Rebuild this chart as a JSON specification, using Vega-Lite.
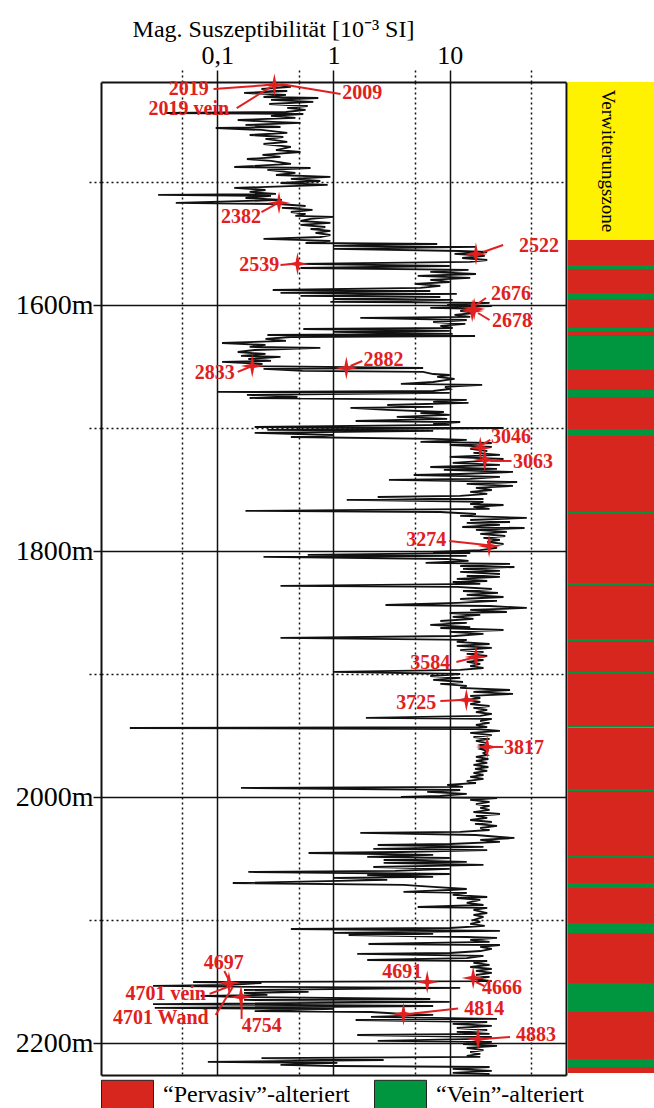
{
"$schema":"https://vega.github.io/schema/vega-lite/v6.json",
"width":553,"height":993,
"autosize":{"type":"none"},
"padding":{"left":101,"top":82,"right":0,"bottom":33},
"background":"white",
"config":{"view":{"stroke":null}},
"datasets":{
"curve":[
{"d":1421.1,"v":0.30},{"d":1422.7,"v":0.43},{"d":1424.4,"v":0.24},{"d":1426.0,"v":0.40},{"d":1427.6,"v":0.17},{"d":1429.2,"v":0.39},{"d":1430.9,"v":0.25},{"d":1431.7,"v":0.74},{"d":1433.3,"v":0.29},{"d":1434.9,"v":0.67},{"d":1436.6,"v":0.28},{"d":1438.2,"v":0.60},{"d":1439.8,"v":0.40},{"d":1441.4,"v":0.575},{"d":1443.1,"v":0.39},{"d":1443.9,"v":0.036},{"d":1444.7,"v":0.55},{"d":1446.3,"v":0.29},{"d":1447.9,"v":0.47},{"d":1449.6,"v":0.15},{"d":1451.2,"v":0.30},{"d":1452.0,"v":0.52},{"d":1453.6,"v":0.175},{"d":1455.3,"v":0.35},{"d":1456.1,"v":0.097},{"d":1457.7,"v":0.24},{"d":1460.1,"v":0.40},{"d":1461.8,"v":0.19},{"d":1463.4,"v":0.37},{"d":1465.0,"v":0.26},{"d":1467.4,"v":0.40},{"d":1469.1,"v":0.25},{"d":1471.5,"v":0.43},{"d":1474.0,"v":0.32},{"d":1475.6,"v":0.52},{"d":1478.0,"v":0.245},{"d":1479.6,"v":0.35},{"d":1481.3,"v":0.18},{"d":1482.9,"v":0.29},{"d":1485.3,"v":0.43},{"d":1487.8,"v":0.14},{"d":1488.6,"v":0.635},{"d":1490.2,"v":0.27},{"d":1492.6,"v":0.47},{"d":1494.3,"v":0.32},{"d":1495.9,"v":0.94},{"d":1497.5,"v":0.43},{"d":1499.2,"v":0.77},{"d":1500.8,"v":0.35},{"d":1502.4,"v":0.89},{"d":1504.0,"v":0.27},{"d":1504.8,"v":0.14},{"d":1506.5,"v":0.26},{"d":1508.1,"v":0.19},{"d":1509.7,"v":0.32},{"d":1510.5,"v":0.031},{"d":1511.3,"v":0.29},{"d":1513.0,"v":0.175},{"d":1514.6,"v":0.36},{"d":1517.0,"v":0.044},{"d":1517.9,"v":0.34},{"d":1519.5,"v":0.575},{"d":1521.1,"v":0.36},{"d":1522.7,"v":0.66},{"d":1524.4,"v":0.43},{"d":1526.0,"v":0.575},{"d":1527.6,"v":0.47},{"d":1528.4,"v":1.0},{"d":1530.0,"v":0.635},{"d":1531.7,"v":0.52},{"d":1533.3,"v":0.94},{"d":1534.9,"v":0.52},{"d":1536.6,"v":0.85},{"d":1538.2,"v":0.635},{"d":1539.8,"v":0.94},{"d":1541.4,"v":0.70},{"d":1543.1,"v":0.94},{"d":1544.7,"v":0.77},{"d":1546.3,"v":0.25},{"d":1547.9,"v":0.94},{"d":1549.6,"v":0.575},{"d":1550.4,"v":7.8},{"d":1552.0,"v":1.0},{"d":1552.8,"v":16.8},{"d":1554.4,"v":1.0},{"d":1556.1,"v":12.3},{"d":1556.9,"v":21},{"d":1558.5,"v":11},{"d":1560.1,"v":20},{"d":1561.8,"v":12.8},{"d":1563.4,"v":21},{"d":1565.0,"v":15},{"d":1566.6,"v":0.49},{"d":1568.3,"v":10},{"d":1569.9,"v":0.52},{"d":1571.5,"v":14.5},{"d":1573.1,"v":6.8},{"d":1574.8,"v":16.8},{"d":1576.4,"v":5.3},{"d":1578.0,"v":15},{"d":1579.6,"v":6.8},{"d":1581.3,"v":10},{"d":1582.9,"v":5.0},{"d":1584.5,"v":8.3},{"d":1586.1,"v":5.6},{"d":1587.8,"v":0.30},{"d":1588.6,"v":6.8},{"d":1590.2,"v":0.35},{"d":1591.0,"v":11.5},{"d":1592.6,"v":0.52},{"d":1593.5,"v":8.3},{"d":1595.1,"v":1.0},{"d":1595.9,"v":10.6},{"d":1597.5,"v":0.94},{"d":1598.3,"v":22},{"d":1600.0,"v":9.5},{"d":1600.8,"v":23},{"d":1602.4,"v":6.8},{"d":1603.2,"v":16.8},{"d":1604.8,"v":12.3},{"d":1606.5,"v":16.5},{"d":1608.1,"v":11},{"d":1609.7,"v":15},{"d":1610.5,"v":1.7},{"d":1612.2,"v":14},{"d":1613.8,"v":7.2},{"d":1615.4,"v":13.6},{"d":1617.0,"v":8.3},{"d":1618.7,"v":10.6},{"d":1619.5,"v":0.55},{"d":1621.1,"v":10},{"d":1621.9,"v":1.0},{"d":1623.5,"v":10.6},{"d":1624.4,"v":0.27},{"d":1625.2,"v":16.5},{"d":1626.0,"v":0.43},{"d":1627.6,"v":0.26},{"d":1629.2,"v":0.39},{"d":1630.9,"v":0.11},{"d":1632.5,"v":0.26},{"d":1634.1,"v":0.19},{"d":1634.9,"v":0.77},{"d":1636.6,"v":0.21},{"d":1638.2,"v":0.15},{"d":1639.8,"v":0.26},{"d":1641.4,"v":0.16},{"d":1642.2,"v":0.35},{"d":1643.9,"v":0.185},{"d":1645.5,"v":0.29},{"d":1646.3,"v":0.11},{"d":1647.9,"v":0.245},{"d":1649.6,"v":0.20},{"d":1651.2,"v":5.9},{"d":1652.0,"v":0.25},{"d":1653.6,"v":0.54},{"d":1654.4,"v":5.9},{"d":1656.1,"v":7.2},{"d":1656.9,"v":10},{"d":1658.5,"v":7.8},{"d":1660.1,"v":11},{"d":1660.9,"v":9.5},{"d":1662.6,"v":7.2},{"d":1664.2,"v":3.8},{"d":1665.0,"v":19},{"d":1666.6,"v":9.1},{"d":1668.3,"v":10},{"d":1669.9,"v":7.2},{"d":1670.7,"v":0.10},{"d":1671.5,"v":10},{"d":1673.1,"v":0.18},{"d":1674.8,"v":0.49},{"d":1675.6,"v":0.19},{"d":1677.2,"v":14},{"d":1678.8,"v":7.2},{"d":1679.6,"v":14.5},{"d":1681.3,"v":2.9},{"d":1682.9,"v":7.2},{"d":1683.7,"v":1.4},{"d":1685.3,"v":2.9},{"d":1687.0,"v":8.9},{"d":1687.8,"v":5.6},{"d":1689.4,"v":10},{"d":1691.0,"v":3.5},{"d":1692.6,"v":9.5},{"d":1694.3,"v":1.55},{"d":1695.1,"v":12.3},{"d":1696.7,"v":7.2},{"d":1697.5,"v":10},{"d":1699.2,"v":0.21},{"d":1700.0,"v":29},{"d":1701.6,"v":0.27},{"d":1702.4,"v":7.2},{"d":1704.0,"v":0.21},{"d":1705.7,"v":1.0},{"d":1707.3,"v":0.43},{"d":1708.9,"v":7.2},{"d":1709.7,"v":14},{"d":1711.3,"v":5.6},{"d":1712.2,"v":23},{"d":1713.8,"v":10},{"d":1715.4,"v":23},{"d":1717.0,"v":15},{"d":1718.7,"v":21},{"d":1720.3,"v":16},{"d":1721.9,"v":27},{"d":1723.5,"v":10},{"d":1725.2,"v":29},{"d":1726.8,"v":19.5},{"d":1728.4,"v":10.6},{"d":1730.0,"v":27},{"d":1731.7,"v":6.8},{"d":1733.3,"v":25.5},{"d":1734.1,"v":8.9},{"d":1735.7,"v":35},{"d":1737.4,"v":12.3},{"d":1738.2,"v":4.9},{"d":1739.8,"v":27},{"d":1741.4,"v":15},{"d":1742.2,"v":3.0},{"d":1743.9,"v":38},{"d":1745.5,"v":14},{"d":1747.1,"v":35},{"d":1748.7,"v":16.8},{"d":1750.4,"v":23},{"d":1752.0,"v":15},{"d":1753.6,"v":21},{"d":1755.2,"v":12.3},{"d":1756.1,"v":2.4},{"d":1757.7,"v":19.5},{"d":1758.5,"v":1.3},{"d":1760.1,"v":19.5},{"d":1761.8,"v":15},{"d":1762.6,"v":29},{"d":1764.2,"v":16},{"d":1765.8,"v":22},{"d":1767.4,"v":0.175},{"d":1768.3,"v":8.3},{"d":1769.9,"v":16.8},{"d":1771.5,"v":12.3},{"d":1773.1,"v":46},{"d":1774.8,"v":15},{"d":1776.4,"v":33},{"d":1777.2,"v":14},{"d":1778.8,"v":27},{"d":1780.5,"v":12.8},{"d":1781.3,"v":44},{"d":1782.9,"v":16.8},{"d":1784.5,"v":31},{"d":1786.1,"v":18.3},{"d":1787.8,"v":30},{"d":1789.4,"v":19.5},{"d":1791.0,"v":27},{"d":1792.6,"v":21},{"d":1794.3,"v":29},{"d":1795.9,"v":22},{"d":1797.5,"v":25.5},{"d":1799.2,"v":18.3},{"d":1800.8,"v":7.2},{"d":1801.6,"v":15},{"d":1803.2,"v":0.60},{"d":1804.0,"v":14},{"d":1804.8,"v":0.25},{"d":1806.5,"v":9.5},{"d":1808.1,"v":14.5},{"d":1809.7,"v":6.2},{"d":1810.5,"v":33},{"d":1812.2,"v":12.3},{"d":1813.0,"v":36},{"d":1814.6,"v":13},{"d":1816.2,"v":27},{"d":1817.0,"v":12.3},{"d":1818.7,"v":27},{"d":1820.3,"v":14},{"d":1821.1,"v":27},{"d":1822.7,"v":11.5},{"d":1824.4,"v":21},{"d":1825.2,"v":10.6},{"d":1826.8,"v":18.3},{"d":1828.4,"v":0.35},{"d":1829.2,"v":11.5},{"d":1830.9,"v":23},{"d":1832.5,"v":13},{"d":1834.1,"v":26},{"d":1835.7,"v":14},{"d":1837.4,"v":29},{"d":1839.0,"v":12.3},{"d":1840.6,"v":25.5},{"d":1842.2,"v":11.5},{"d":1843.9,"v":2.8},{"d":1844.7,"v":22},{"d":1846.3,"v":46},{"d":1847.9,"v":15},{"d":1849.6,"v":31},{"d":1850.4,"v":10},{"d":1852.0,"v":18.3},{"d":1853.6,"v":10.6},{"d":1855.2,"v":16},{"d":1856.9,"v":8.3},{"d":1858.5,"v":14},{"d":1860.1,"v":6.8},{"d":1861.8,"v":15},{"d":1862.6,"v":8.3},{"d":1864.2,"v":29},{"d":1865.8,"v":10},{"d":1867.4,"v":19.5},{"d":1869.1,"v":11},{"d":1870.7,"v":0.35},{"d":1872.3,"v":14},{"d":1873.9,"v":11.5},{"d":1875.6,"v":22},{"d":1877.2,"v":11.5},{"d":1878.8,"v":23},{"d":1880.5,"v":12.3},{"d":1882.1,"v":19.5},{"d":1883.7,"v":14},{"d":1885.3,"v":21},{"d":1887.0,"v":15},{"d":1888.6,"v":19.5},{"d":1890.2,"v":14},{"d":1891.8,"v":18.3},{"d":1893.5,"v":15},{"d":1895.1,"v":19.5},{"d":1896.7,"v":12.3},{"d":1898.3,"v":1.0},{"d":1900.0,"v":12.3},{"d":1901.6,"v":6.8},{"d":1903.2,"v":12.3},{"d":1904.8,"v":7.2},{"d":1906.5,"v":13},{"d":1908.1,"v":8.3},{"d":1909.7,"v":14},{"d":1911.3,"v":12.3},{"d":1913.0,"v":33},{"d":1914.6,"v":16},{"d":1916.2,"v":35},{"d":1917.8,"v":15},{"d":1919.5,"v":18.3},{"d":1921.1,"v":14},{"d":1922.7,"v":18.3},{"d":1924.4,"v":15},{"d":1926.0,"v":22},{"d":1927.6,"v":16},{"d":1929.2,"v":21},{"d":1930.9,"v":16.8},{"d":1932.5,"v":23},{"d":1934.1,"v":18.3},{"d":1935.7,"v":1.9},{"d":1936.5,"v":23},{"d":1938.2,"v":18.3},{"d":1939.8,"v":22},{"d":1941.4,"v":16.8},{"d":1943.1,"v":21},{"d":1943.9,"v":0.0177},{"d":1944.7,"v":16.8},{"d":1946.3,"v":27},{"d":1947.9,"v":15},{"d":1949.6,"v":23},{"d":1951.2,"v":16},{"d":1952.8,"v":22},{"d":1954.4,"v":16.8},{"d":1956.1,"v":21},{"d":1957.7,"v":18.3},{"d":1959.3,"v":21},{"d":1960.9,"v":18.3},{"d":1962.6,"v":21},{"d":1964.2,"v":19.5},{"d":1965.8,"v":21},{"d":1967.4,"v":16.8},{"d":1969.1,"v":21.5},{"d":1970.7,"v":16.8},{"d":1972.3,"v":21},{"d":1973.9,"v":16},{"d":1975.6,"v":21.5},{"d":1977.2,"v":16.5},{"d":1978.8,"v":21},{"d":1980.4,"v":16},{"d":1982.1,"v":19.5},{"d":1983.7,"v":15},{"d":1985.3,"v":19.5},{"d":1987.0,"v":14},{"d":1988.6,"v":16.8},{"d":1990.2,"v":9.5},{"d":1991.8,"v":13},{"d":1992.6,"v":0.16},{"d":1994.3,"v":12.3},{"d":1995.9,"v":6.4},{"d":1997.5,"v":14},{"d":1999.1,"v":8.3},{"d":1999.9,"v":3.8},{"d":2000.8,"v":25.5},{"d":2002.4,"v":15},{"d":2004.0,"v":22},{"d":2005.7,"v":16.8},{"d":2007.3,"v":22},{"d":2008.9,"v":18.3},{"d":2010.5,"v":22},{"d":2012.2,"v":16},{"d":2013.8,"v":27},{"d":2015.4,"v":16.8},{"d":2017.0,"v":21},{"d":2018.7,"v":15},{"d":2020.3,"v":23},{"d":2021.9,"v":16.5},{"d":2023.5,"v":25.5},{"d":2025.2,"v":18.3},{"d":2026.8,"v":22},{"d":2028.4,"v":12.3},{"d":2029.2,"v":1.7},{"d":2030.9,"v":16.8},{"d":2032.5,"v":27},{"d":2033.3,"v":36},{"d":2034.9,"v":18.3},{"d":2036.5,"v":27},{"d":2038.2,"v":10},{"d":2039.0,"v":2.4},{"d":2040.6,"v":19.5},{"d":2042.2,"v":2.2},{"d":2043.1,"v":21},{"d":2044.7,"v":3.8},{"d":2045.5,"v":0.61},{"d":2047.1,"v":7.2},{"d":2048.7,"v":1.95},{"d":2049.6,"v":10},{"d":2051.2,"v":2.7},{"d":2052.8,"v":14},{"d":2053.6,"v":2.7},{"d":2055.2,"v":19.5},{"d":2056.9,"v":2.2},{"d":2058.5,"v":10},{"d":2060.1,"v":3.4},{"d":2060.9,"v":0.185},{"d":2062.6,"v":10},{"d":2063.4,"v":1.95},{"d":2065.0,"v":7.2},{"d":2065.8,"v":1.0},{"d":2067.4,"v":2.9},{"d":2069.9,"v":0.136},{"d":2071.5,"v":4.0},{"d":2073.1,"v":7.2},{"d":2074.8,"v":14},{"d":2075.6,"v":10},{"d":2077.2,"v":4.0},{"d":2078.0,"v":14},{"d":2079.6,"v":10.6},{"d":2081.3,"v":21},{"d":2082.1,"v":11.5},{"d":2083.7,"v":18.3},{"d":2086.1,"v":14},{"d":2087.8,"v":19.5},{"d":2089.4,"v":5.3},{"d":2090.2,"v":21},{"d":2091.8,"v":16},{"d":2094.3,"v":21},{"d":2095.9,"v":16},{"d":2097.5,"v":19.5},{"d":2100.0,"v":16},{"d":2101.6,"v":18.3},{"d":2103.2,"v":15},{"d":2104.8,"v":20},{"d":2106.5,"v":10},{"d":2107.3,"v":0.43},{"d":2108.9,"v":27},{"d":2110.5,"v":1.0},{"d":2111.3,"v":7.2},{"d":2112.2,"v":1.35},{"d":2113.8,"v":14},{"d":2114.6,"v":25.5},{"d":2116.2,"v":15},{"d":2117.8,"v":22},{"d":2119.5,"v":2.0},{"d":2120.3,"v":27},{"d":2121.9,"v":18.3},{"d":2123.5,"v":23},{"d":2125.2,"v":18.3},{"d":2126.8,"v":10},{"d":2127.6,"v":1.6},{"d":2129.2,"v":19.5},{"d":2130.9,"v":14},{"d":2132.5,"v":1.95},{"d":2133.3,"v":21},{"d":2134.9,"v":16},{"d":2136.5,"v":22},{"d":2138.2,"v":15},{"d":2139.8,"v":23},{"d":2141.4,"v":16.8},{"d":2143.0,"v":23},{"d":2144.7,"v":16.8},{"d":2146.3,"v":22},{"d":2147.9,"v":16},{"d":2149.6,"v":23},{"d":2150.4,"v":0.062},{"d":2151.2,"v":0.24},{"d":2152.8,"v":0.13},{"d":2153.6,"v":0.028},{"d":2154.4,"v":0.25},{"d":2155.2,"v":12.3},{"d":2156.9,"v":0.17},{"d":2158.5,"v":0.61},{"d":2159.3,"v":0.17},{"d":2160.9,"v":0.27},{"d":2161.7,"v":0.072},{"d":2162.6,"v":0.16},{"d":2164.2,"v":6.8},{"d":2165.0,"v":0.17},{"d":2166.6,"v":10},{"d":2168.3,"v":0.028},{"d":2169.9,"v":7.2},{"d":2171.5,"v":0.029},{"d":2172.3,"v":1.0},{"d":2174.0,"v":0.21},{"d":2174.8,"v":2.1},{"d":2176.4,"v":4.0},{"d":2177.2,"v":7.2},{"d":2178.8,"v":2.1},{"d":2180.4,"v":25.5},{"d":2181.3,"v":1.55},{"d":2182.9,"v":21},{"d":2184.5,"v":10.6},{"d":2186.1,"v":23},{"d":2187.8,"v":11.5},{"d":2189.4,"v":21},{"d":2191.0,"v":11.5},{"d":2192.6,"v":22},{"d":2193.5,"v":1.6},{"d":2195.1,"v":23},{"d":2196.7,"v":17.4},{"d":2198.3,"v":2.4},{"d":2199.1,"v":23},{"d":2200.8,"v":13},{"d":2202.4,"v":25.5},{"d":2204.0,"v":14},{"d":2205.7,"v":19.5},{"d":2207.3,"v":15},{"d":2208.9,"v":18.3},{"d":2210.5,"v":14},{"d":2211.3,"v":18.3},{"d":2212.2,"v":0.24},{"d":2213.8,"v":2.7},{"d":2215.4,"v":0.083},{"d":2216.2,"v":1.08},{"d":2217.8,"v":0.35},{"d":2218.7,"v":1.0},{"d":2219.5,"v":22},{"d":2221.1,"v":10.6},{"d":2222.7,"v":23},{"d":2224.3,"v":10.6},{"d":2225.2,"v":22}
],
"leaders":[
{"v1":0.093,"d1":1424.4,"v2":0.277,"d2":1421.1},{"v1":0.147,"d1":1440.0,"v2":0.288,"d2":1422.7},{"v1":0.35,"d1":1420.3,"v2":1.15,"d2":1428.4},{"v1":0.24,"d1":1524.4,"v2":0.32,"d2":1517.9},{"v1":19.4,"d1":1556.9,"v2":28.8,"d2":1551.2},{"v1":0.35,"d1":1567.4,"v2":0.44,"d2":1566.6},{"v1":20.5,"d1":1594.3,"v2":16.8,"d2":1600.0},{"v1":17.5,"d1":1606.5,"v2":22,"d2":1612.2},{"v1":0.15,"d1":1654.4,"v2":0.19,"d2":1650.4},{"v1":1.4,"d1":1649.6,"v2":1.77,"d2":1645.5},{"v1":18.9,"d1":1713.8,"v2":22.3,"d2":1709.7},{"v1":22.3,"d1":1726.8,"v2":34,"d2":1726.8},{"v1":9.9,"d1":1791.8,"v2":20.6,"d2":1795.1},{"v1":11.4,"d1":1890.2,"v2":15.6,"d2":1887.0},{"v1":8.3,"d1":1921.9,"v2":12.6,"d2":1921.1},{"v1":24,"d1":1959.3,"v2":28.8,"d2":1959.3},{"v1":0.115,"d1":2141.4,"v2":0.126,"d2":2148.7},{"v1":0.086,"d1":2160.1,"v2":0.136,"d2":2152.8},{"v1":0.097,"d1":2177.2,"v2":0.136,"d2":2154.4},{"v1":0.162,"d1":2163.4,"v2":0.162,"d2":2180.4},{"v1":16.8,"d1":2150.4,"v2":19.9,"d2":2153.8},{"v1":4.4,"d1":2176.4,"v2":11.8,"d2":2172.0},{"v1":19,"d1":2196.7,"v2":33,"d2":2195.1}
],
"stars":[
{"v":0.31,"d":1421.1},{"v":0.34,"d":1517.0},{"v":16.8,"d":1558.5},{"v":0.49,"d":1566.6},{"v":16.2,"d":1603.2},{"v":15.6,"d":1604.8},{"v":0.20,"d":1649.6},{"v":1.29,"d":1651.2},{"v":18.3,"d":1716.2},{"v":20,"d":1726.0},{"v":21.8,"d":1795.9},{"v":16.8,"d":1886.1},{"v":13.9,"d":1921.1},{"v":21,"d":1959.3},{"v":0.126,"d":2151.2},{"v":0.16,"d":2162.6},{"v":6.4,"d":2150.4},{"v":15.9,"d":2147.1},{"v":4.0,"d":2176.4},{"v":17.5,"d":2196.7}
],
"labels":[
{"v":0.057,"d":1424.4,"t":"2019"},{"v":0.057,"d":1441.0,"t":"2019 vein"},{"v":1.77,"d":1427.6,"t":"2009"},{"v":0.16,"d":1528.4,"t":"2382"},{"v":58.7,"d":1552.0,"t":"2522"},{"v":0.23,"d":1567.4,"t":"2539"},{"v":33.7,"d":1591.0,"t":"2676"},{"v":34.4,"d":1613.0,"t":"2678"},{"v":0.095,"d":1655.2,"t":"2833"},{"v":2.69,"d":1644.7,"t":"2882"},{"v":33.7,"d":1707.3,"t":"3046"},{"v":52,"d":1727.6,"t":"3063"},{"v":6.29,"d":1791.0,"t":"3274"},{"v":6.8,"d":1891.0,"t":"3584"},{"v":5.16,"d":1923.5,"t":"3725"},{"v":43.6,"d":1960.1,"t":"3817"},{"v":0.114,"d":2134.9,"t":"4697"},{"v":0.036,"d":2160.1,"t":"4701 vein"},{"v":0.0327,"d":2179.6,"t":"4701 Wand"},{"v":0.241,"d":2186.1,"t":"4754"},{"v":3.91,"d":2142.2,"t":"4691"},{"v":28.2,"d":2155.3,"t":"4666"},{"v":19.8,"d":2172.0,"t":"4814"},{"v":55.2,"d":2193.5,"t":"4883"}
],
"bands":[
{"d1":1547.2,"d2":1567.5,"typ":"“Pervasiv”-alteriert"},{"d1":1567.5,"d2":1570.7,"typ":"“Vein”-alteriert"},{"d1":1570.7,"d2":1590.2,"typ":"“Pervasiv”-alteriert"},{"d1":1590.2,"d2":1595.1,"typ":"“Vein”-alteriert"},{"d1":1595.1,"d2":1618.7,"typ":"“Pervasiv”-alteriert"},{"d1":1618.7,"d2":1621.1,"typ":"“Vein”-alteriert"},{"d1":1621.1,"d2":1625.2,"typ":"“Pervasiv”-alteriert"},{"d1":1625.2,"d2":1652.8,"typ":"“Vein”-alteriert"},{"d1":1652.8,"d2":1669.1,"typ":"“Pervasiv”-alteriert"},{"d1":1669.1,"d2":1674.8,"typ":"“Vein”-alteriert"},{"d1":1674.8,"d2":1700.8,"typ":"“Pervasiv”-alteriert"},{"d1":1700.8,"d2":1706.5,"typ":"“Vein”-alteriert"},{"d1":1706.5,"d2":1768.3,"typ":"“Pervasiv”-alteriert"},{"d1":1768.3,"d2":1769.9,"typ":"“Vein”-alteriert"},{"d1":1769.9,"d2":1826.0,"typ":"“Pervasiv”-alteriert"},{"d1":1826.0,"d2":1827.6,"typ":"“Vein”-alteriert"},{"d1":1827.6,"d2":1871.5,"typ":"“Pervasiv”-alteriert"},{"d1":1871.5,"d2":1873.2,"typ":"“Vein”-alteriert"},{"d1":1873.2,"d2":1898.4,"typ":"“Pervasiv”-alteriert"},{"d1":1898.4,"d2":1900.0,"typ":"“Vein”-alteriert"},{"d1":1900.0,"d2":1942.3,"typ":"“Pervasiv”-alteriert"},{"d1":1942.3,"d2":1943.5,"typ":"“Vein”-alteriert"},{"d1":1943.5,"d2":1993.5,"typ":"“Pervasiv”-alteriert"},{"d1":1993.5,"d2":1995.1,"typ":"“Vein”-alteriert"},{"d1":1995.1,"d2":2048.0,"typ":"“Pervasiv”-alteriert"},{"d1":2048.0,"d2":2049.6,"typ":"“Vein”-alteriert"},{"d1":2049.6,"d2":2069.9,"typ":"“Pervasiv”-alteriert"},{"d1":2069.9,"d2":2074.0,"typ":"“Vein”-alteriert"},{"d1":2074.0,"d2":2102.4,"typ":"“Pervasiv”-alteriert"},{"d1":2102.4,"d2":2110.6,"typ":"“Vein”-alteriert"},{"d1":2110.6,"d2":2151.2,"typ":"“Pervasiv”-alteriert"},{"d1":2151.2,"d2":2174.8,"typ":"“Vein”-alteriert"},{"d1":2174.8,"d2":2213.0,"typ":"“Pervasiv”-alteriert"},{"d1":2213.0,"d2":2219.5,"typ":"“Vein”-alteriert"},{"d1":2219.5,"d2":2224.4,"typ":"“Pervasiv”-alteriert"}
],
"zone":[{"d1":1418.7,"d2":1547.2,"mid":1482.9,"name":"Verwitterungszone"}]
},
"resolve":{"scale":{"x":"independent"},"axis":{"x":"independent","y":"independent"}},
"layer":[
{"data":{"name":"curve"},
 "mark":{"type":"line","color":"#111111","strokeWidth":1.8},
 "encoding":{
  "x":{"field":"v","type":"quantitative","scale":{"type":"log","domain":[0.01,100],"range":[0,465],"nice":false},
   "axis":{"orient":"top","values":[0.1,1,10],"grid":true,"gridColor":"#111111","gridWidth":1.5,"gridOpacity":1,"tickColor":"#111111","tickWidth":1.5,"tickSize":12,"domain":true,"domainColor":"#111111","domainWidth":2,"labelFont":"Liberation Serif","labelFontSize":26,"labelColor":"#000000","labelPadding":2,"labelExpr":"datum.value < 0.5 ? '0,1' : format(datum.value, 'd')","labelFlush":false,"labelOverlap":false,"title":"Mag. Suszeptibilität [10⁻³ SI]","titleFont":"Liberation Serif","titleFontSize":24,"titleFontWeight":"normal","titleColor":"#000000","titleX":172,"titleY":-46,"titleAlign":"center","titleBaseline":"alphabetic","titleAngle":0}},
  "y":{"field":"d","type":"quantitative","scale":{"domain":[1418.7,2226],"reverse":true,"zero":false,"nice":false},
   "axis":{"orient":"left","values":[1600,1800,2000,2200],"grid":true,"gridColor":"#111111","gridWidth":1.5,"gridOpacity":1,"tickColor":"#111111","tickWidth":1.5,"tickSize":8,"domain":true,"domainColor":"#111111","domainWidth":2,"labelFont":"Liberation Serif","labelFontSize":28,"labelColor":"#000000","labelPadding":0,"labelExpr":"format(datum.value, 'd') + 'm'","labelFlush":false,"labelOverlap":false,"title":null}},
  "order":{"field":"d","type":"quantitative"}
 }},
{"data":{"name":"leaders"},
 "mark":{"type":"rule","color":"#E02020","strokeWidth":2},
 "encoding":{
  "x":{"field":"v1","type":"quantitative","scale":{"type":"log","domain":[0.01,100],"range":[0,465],"nice":false},
   "axis":{"orient":"top","values":[0.05,0.5,5,50],"grid":true,"gridColor":"#111111","gridWidth":1.5,"gridOpacity":1,"gridDash":[2,3],"tickColor":"#111111","tickWidth":1.5,"tickSize":12,"tickDash":[2,3],"domain":false,"labels":false,"title":null}},
  "x2":{"field":"v2"},
  "y":{"field":"d1","type":"quantitative","scale":{"domain":[1418.7,2226],"reverse":true,"zero":false,"nice":false},
   "axis":{"orient":"left","values":[1500,1700,1900,2100],"grid":true,"gridColor":"#111111","gridWidth":1.5,"gridOpacity":1,"gridDash":[2,3],"tickColor":"#111111","tickWidth":1.5,"tickSize":12,"tickDash":[2,3],"domain":false,"labels":false,"title":null}},
  "y2":{"field":"d2"}
 }},
{"data":{"name":"stars"},
 "mark":{"type":"point","shape":"M0,-1L0.17,-0.17L1,0L0.17,0.17L0,1L-0.17,0.17L-1,0L-0.17,-0.17Z","filled":true,"color":"#E02020","opacity":1,"size":520},
 "encoding":{
  "x":{"field":"v","type":"quantitative","scale":{"type":"log","domain":[0.01,100],"range":[0,465],"nice":false},
   "axis":{"orient":"bottom","values":[],"grid":false,"ticks":false,"labels":false,"domain":true,"domainColor":"#111111","domainWidth":2,"title":null}},
  "y":{"field":"d","type":"quantitative","scale":{"domain":[1418.7,2226],"reverse":true,"zero":false,"nice":false},
   "axis":{"orient":"right","offset":-88,"values":[],"grid":false,"ticks":false,"labels":false,"domain":true,"domainColor":"#111111","domainWidth":2,"title":null}}
 }},
{"data":{"name":"labels"},
 "mark":{"type":"text","font":"Liberation Serif","fontWeight":"bold","fontSize":20,"color":"#E02020","align":"center","baseline":"middle"},
 "encoding":{
  "x":{"field":"v","type":"quantitative","scale":{"type":"log","domain":[0.01,100],"range":[0,465],"nice":false},"axis":null},
  "y":{"field":"d","type":"quantitative","scale":{"domain":[1418.7,2226],"reverse":true,"zero":false,"nice":false},"axis":null},
  "text":{"field":"t"}
 }},
{"data":{"name":"bands"},
 "mark":{"type":"rect"},
 "encoding":{
  "x":{"datum":0,"type":"quantitative","scale":{"domain":[0,1],"range":[467,553],"nice":false,"zero":false},"axis":null},
  "x2":{"datum":1},
  "y":{"field":"d1","type":"quantitative","scale":{"domain":[1418.7,2226],"reverse":true,"zero":false,"nice":false},"axis":null},
  "y2":{"field":"d2"},
  "color":{"field":"typ","type":"nominal","scale":{"domain":["“Pervasiv”-alteriert","“Vein”-alteriert"],"range":["#D7261E","#00953F"]},
   "legend":{"orient":"none","legendX":0,"legendY":986,"direction":"horizontal","title":null,"symbolType":"M-1,-0.55H1V0.55H-1Z","symbolSize":2704,"symbolStrokeColor":"#222222","symbolStrokeWidth":1,"symbolOpacity":1,"labelFont":"Liberation Serif","labelFontSize":24,"labelColor":"#000000","labelLimit":400,"labelOffset":9,"columnPadding":22,"padding":0,"rowPadding":0}}
 }},
{"data":{"name":"zone"},
 "mark":{"type":"rect","color":"#FFF200"},
 "encoding":{
  "x":{"datum":0,"type":"quantitative","scale":{"domain":[0,1],"range":[467,553],"nice":false,"zero":false},"axis":null},
  "x2":{"datum":1},
  "y":{"field":"d1","type":"quantitative","scale":{"domain":[1418.7,2226],"reverse":true,"zero":false,"nice":false},"axis":null},
  "y2":{"field":"d2"}
 }},
{"data":{"name":"zone"},
 "mark":{"type":"text","font":"Liberation Serif","fontSize":19,"color":"#000000","angle":90,"align":"center","baseline":"middle"},
 "encoding":{
  "x":{"datum":0.47,"type":"quantitative","scale":{"domain":[0,1],"range":[467,553],"nice":false,"zero":false},"axis":null},
  "y":{"field":"mid","type":"quantitative","scale":{"domain":[1418.7,2226],"reverse":true,"zero":false,"nice":false},"axis":null},
  "text":{"field":"name"}
 }}
]
}
